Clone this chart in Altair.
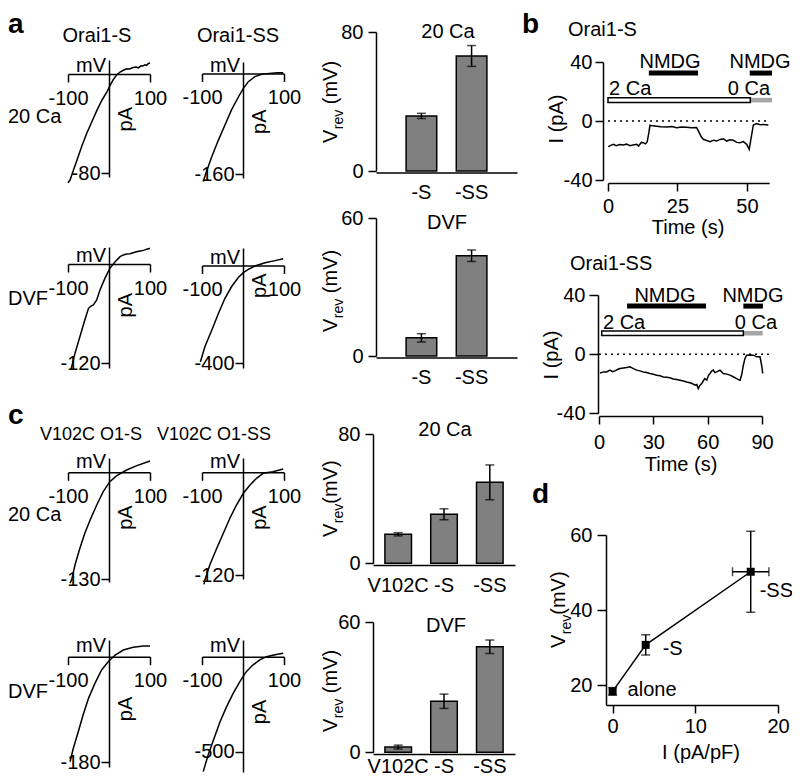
import altair as alt
import pandas as pd

# ============================ data =========================================
# I-V curves (membrane potential mV, current pA)
A20_S_V = [-100, -95, -86, -78, -66, -54, -41, -29, -17, -5, 3, 10, 18, 27, 35, 43, 50, 59, 66, 72, 78, 83, 88, 92, 96, 100]
A20_S_I = [-88, -85.7, -77, -69.5, -58, -47.7, -38, -29, -21, -14.5, -9, -4.8, -1, 1.6, 3.0, 4.2, 4.0, 5.2, 5.6, 5.0, 6.6, 6.5, 7.5, 7.0, 8.5, 8.9]
A20_SS_V = [-97, -89, -76, -60, -44, -28, -11, 1, 13, 29, 46, 58, 70, 84, 98]
A20_SS_I = [-172, -156, -132, -106, -82, -58, -37, -23.6, -13, -5, -1.3, -0.2, 0.3, 1.0, 1.3]
ADVF_S_V = [-93, -91, -83, -71, -59, -50, -44, -38, -30, -22, -10, 2, 15, 27, 35, 43, 51, 59, 67, 76, 84, 92, 100]
ADVF_S_I = [-128, -124.4, -108.3, -88.1, -67.9, -53.7, -51, -49.7, -43.6, -31.5, -17.4, -5.3, 2.8, 8.9, 11, 12.1, 12.5, 13.7, 14.8, 15.8, 16.5, 18, 19]
ADVF_SS_V = [-104, -93, -76, -60, -44, -28, -11, 1, 13, 29, 54, 78, 98]
ADVF_SS_I = [-395, -332, -264, -196, -134, -87, -48, -29, -16, -2, 11, 20, 28]
C20_S_V = [-95, -91, -83, -71, -59, -46, -30, -14, 2, 19, 43, 68, 100]
C20_S_I = [-135, -131, -113, -92.6, -74.3, -58.1, -39.8, -23.6, -11.4, -4.1, 2.8, 8.1, 13.8]
C20_SS_V = [-95, -93, -81, -64, -48, -32, -16, 1, 17, 33, 49, 73, 98]
C20_SS_I = [-131, -125.8, -108.3, -88.8, -71.3, -53.7, -38.2, -24.5, -14.8, -7.0, -1.2, 0.7, 3.9]
CDVF_S_V = [-95, -87, -75, -63, -50, -34, -18, -2, 15, 35, 59, 84, 100]
CDVF_S_I = [-179, -156, -128, -99, -71, -45, -22.7, -8.5, 2.9, 11.4, 16, 18.2, 18.2]
CDVF_SS_V = [-97, -85, -72, -56, -40, -24, -8, 8, 24, 41, 57, 81, 98]
CDVF_SS_I = [-605, -517, -438, -342, -263, -193, -132, -79, -44, -17, 0, 12, 18]

# bar charts (Vrev, mV)
A_CATS = ["-S", "-SS"]
A_20CA_MEAN = [31.7, 66.2]
A_20CA_SEM = [1.5, 6.0]
A_DVF_MEAN = [7.9, 43.6]
A_DVF_SEM = [1.8, 2.5]
C_CATS = ["V102C", "-S", "-SS"]
C_20CA_MEAN = [18.0, 30.4, 50.2]
C_20CA_SEM = [1.0, 3.4, 10.8]
C_DVF_MEAN = [2.4, 23.5, 48.6]
C_DVF_SEM = [0.9, 3.3, 3.1]

# current traces (time s, current pA)
B_S_T = [0.1, 1.0, 1.9, 3.0, 4.2, 5.5, 6.7, 7.9, 9.0, 10.3, 11.0, 12.0, 12.7, 13.5, 14.1, 14.7, 15.1, 16.0, 17.5, 19.0,
         21.1, 23.0, 24.7, 26.5, 28.3, 30.0, 31.9, 32.8, 33.5, 34.3, 35.5, 36.7, 38.0, 39.1, 40.3, 41.5, 42.7, 43.9, 45.1, 46.3,
         47.5, 48.7, 49.9, 50.8, 51.3, 52.3, 53.5, 54.7, 55.9, 57.7]
B_S_I = [-17.4, -16.5, -15.8, -16.8, -16.0, -16.3, -15.7, -16.7, -16.2, -15.8, -17.0, -14.5, -14.7, -15.5, -14.2, -7.9, -2.9, -3.3, -3.6, -3.9,
         -4.1, -3.8, -4.5, -4.0, -4.3, -4.6, -4.5, -7.9, -10.5, -12.4, -13.2, -14.0, -13.0, -13.6, -12.5, -12.0, -13.6, -12.8, -13.1, -14.5,
         -14.7, -14.0, -15.8, -19.2, -13.6, -2.7, -1.8, -2.5, -2.3, -2.7]
B_S_NMDG_START = [14.7, 51.0]
B_S_NMDG_END = [32.4, 59.0]
B_S_SOL_START = [0.0, 51.2]
B_S_SOL_END = [51.2, 59.0]

B_SS_T = [0.55, 2.5, 4.2, 6.1, 7.5, 8.8, 10.2, 11.6, 13.5, 15.3, 17.1, 19.0, 20.8, 22.6, 24.5, 26.3, 28.2, 30.0, 31.9, 33.7,
          35.5, 37.4, 39.2, 41.0, 42.9, 44.7, 46.6, 48.4, 50.2, 51.6, 53.0, 54.0, 54.8, 55.8, 56.7, 57.6, 58.5, 59.5, 60.4, 61.3,
          62.2, 63.1, 64.0, 65.0, 66.8, 68.6, 70.5, 72.3, 74.1, 76.0, 77.0, 77.9, 78.8, 79.7, 80.6, 81.5, 83.4, 85.2, 87.1, 88.9,
          89.8, 90.4]
B_SS_I = [-12.7, -12.0, -12.0, -10.8, -11.8, -11.3, -10.4, -9.7, -9.3, -9.0, -8.6, -9.8, -10.8, -11.3, -12.0, -12.4, -13.1, -13.6, -14.2, -14.6,
          -15.4, -15.6, -16.0, -16.8, -17.2, -17.6, -18.1, -18.8, -19.4, -20.0, -21.0, -20.5, -23.3, -21.0, -19.9, -18.0, -16.5, -17.6, -14.5, -13.1,
          -11.5, -10.8, -12.5, -12.0, -10.8, -13.1, -13.5, -14.2, -15.3, -16.5, -17.2, -17.6, -13.8, -7.5, -2.9, -0.7, -0.5, -0.7, -1.8, -1.8,
          -7.5, -13.1]
B_SS_NMDG_START = [15.5, 79.7]
B_SS_NMDG_END = [59.1, 90.5]
B_SS_SOL_START = [1.5, 79.7]
B_SS_SOL_END = [79.7, 90.4]

# panel d
D_NAMES = ["alone", "-S", "-SS"]
D_I = [0.0, 4.0, 16.7]
D_I_ERR = [0.0, 0.0, 2.2]
D_V = [18.3, 30.7, 50.2]
D_V_ERR = [1.0, 2.7, 10.8]

# ============================ layout helpers ===============================
FONT = "Liberation Sans"
W, H = 784, 768
M = 8
GRAY = "#808080"


def X(v):
    return v - M


def Y(v):
    return v - M


def lin(dom, rng):
    return alt.Scale(domain=list(dom), range=list(rng), nice=False, zero=False)


def ax_bottom(y_img, **kw):
    return alt.Axis(orient="bottom", offset=Y(y_img) - H, title=None, **kw)


def ax_left(x_img, **kw):
    return alt.Axis(orient="left", offset=-X(x_img), title=None, **kw)


def txt(**kw):
    base = dict(font=FONT, fontSize=20, color="black")
    base.update(kw)
    return base


layers = []


def label_layer(rows, size=20, align="center", baseline="alphabetic", angle=0, weight="normal"):
    df = pd.DataFrame(rows, columns=["t", "px", "py"])
    df["px"] = df["px"] - M
    df["py"] = df["py"] - M
    mk = txt(fontSize=size, align=align, baseline=baseline, fontWeight=weight)
    if angle:
        mk["angle"] = angle
    return alt.Chart(df).mark_text(**mk).encode(
        x=alt.X("px:Q", scale=lin([0, W], [0, W]), axis=None),
        y=alt.Y("py:Q", scale=lin([0, H], [0, H]), axis=None),
        text="t:N",
    )


# ---------------------------- I-V plots -------------------------------------
def iv(V, I, xl, xr, y0, tickval, ytick, ytop, ybot, pa_off, mv_dy=-2):
    k = (ytick - y0) / (-tickval)
    xs = lin([-100, 100], [X(xl), X(xr)])
    ys = lin([(y0 - ybot) / k, (y0 - ytop) / k], [Y(ybot), Y(ytop)])
    xmid = (xl + xr) / 2
    df = pd.DataFrame({"V": V, "I": I})
    curve = alt.Chart(df).mark_line(color="black", strokeWidth=1.5).encode(
        x=alt.X("V:Q", scale=xs, axis=ax_bottom(y0, values=[-100, 100], tickSize=8, labelPadding=6)),
        y=alt.Y("I:Q", scale=ys, axis=ax_left(xmid, values=[tickval], tickSize=8, labelPadding=1)),
    )
    org = pd.DataFrame({"V": [0], "I": [0], "u1": ["mV"], "u2": ["pA"]})
    mv = alt.Chart(org).mark_text(**txt(align="right", baseline="alphabetic", dx=-3, dy=mv_dy)).encode(
        x=alt.X("V:Q", scale=xs, axis=None), y=alt.Y("I:Q", scale=ys, axis=None), text="u1:N")
    pa = alt.Chart(org).mark_text(**txt(align="right", baseline="top", angle=270, dx=-pa_off, dy=7)).encode(
        x=alt.X("V:Q", scale=xs, axis=None), y=alt.Y("I:Q", scale=ys, axis=None), text="u2:N")
    return [curve, mv, pa]


layers += iv(A20_S_V, A20_S_I, 68, 150, 74, -80, 173, 60, 177, 33)
layers += iv(A20_SS_V, A20_SS_I, 202, 284, 73.5, -160, 174, 62, 178, 36)
layers += iv(ADVF_S_V, ADVF_S_I, 68, 150, 264, -120, 363, 247, 368, 29)
layers += iv(ADVF_SS_V, ADVF_SS_I, 202, 284, 265.5, -400, 363.3, 248, 368, 8)
layers += iv(C20_S_V, C20_S_I, 68, 150, 472.3, -130, 579, 458, 582, 33, -4)
layers += iv(C20_SS_V, C20_SS_I, 202, 284, 472.3, -120, 575, 458, 579, 33, -4)
layers += iv(CDVF_S_V, CDVF_S_I, 68, 150, 656.7, -180, 762.3, 640, 767, 40, -5)
layers += iv(CDVF_SS_V, CDVF_SS_I, 202, 284, 656.7, -500, 751.7, 640, 772, 43, -5)


# ---------------------------- bar charts ------------------------------------
def bars(cats, mean, sem, xl, xr, pi, po, y0, ymax, ytop, xaxis_y, lab_pad=10):
    xs = alt.Scale(type="band", domain=cats, range=[X(xl), X(xr)], paddingInner=pi, paddingOuter=po)
    ys = lin([0, ymax], [Y(y0), Y(ytop)])
    df = pd.DataFrame({"cat": cats, "m": mean,
                       "lo": [m - s for m, s in zip(mean, sem)],
                       "hi": [m + s for m, s in zip(mean, sem)]})
    out = [alt.Chart(df).mark_bar(fill=GRAY, stroke="black", strokeWidth=1.5).encode(
        x=alt.X("cat:N", scale=xs, sort=cats,
                axis=ax_bottom(xaxis_y, ticks=False, tickSize=0, labelPadding=lab_pad, labelAngle=0, zindex=1)),
        y=alt.Y("m:Q", scale=ys, axis=ax_left(xl, values=[0, ymax], tickSize=8, labelPadding=5)),
    )]
    out.append(alt.Chart(df).mark_rule(color="black", strokeWidth=1.5).encode(
        x=alt.X("cat:N", scale=xs, sort=cats, axis=None),
        y=alt.Y("lo:Q", scale=ys, axis=None), y2="hi:Q"))
    for c in ("lo", "hi"):
        out.append(alt.Chart(df).mark_tick(color="black", thickness=1.5, size=9, orient="horizontal").encode(
            x=alt.X("cat:N", scale=xs, sort=cats, axis=None),
            y=alt.Y(f"{c}:Q", scale=ys, axis=None)))
    return out


layers += bars(A_CATS, A_20CA_MEAN, A_20CA_SEM, 376, 517, 0.39, 0.6, 171, 80, 32, 172.5)
layers += bars(A_CATS, A_DVF_MEAN, A_DVF_SEM, 376, 517, 0.39, 0.6, 356, 60, 218, 357.5)
layers += bars(C_CATS, C_20CA_MEAN, C_20CA_SEM, 373, 515, 0.42, 0.26, 563.3, 80, 434.3, 565)
layers += bars(C_CATS, C_DVF_MEAN, C_DVF_SEM, 373, 515, 0.42, 0.26, 752.3, 60, 622, 754, lab_pad=2)


# ---------------------------- current traces --------------------------------
NM_LEVEL = 32.5
NM_TEXT = 35.6
CA_TEXT = 17.3
SOL_LO, SOL_HI = 12.6, 15.7


def trace(T, I, tmax, xl, xr, y40, ym40, yaxis_x, xaxis_y, xvals, ytick, ypad, xpad, dot_end,
          nm_s, nm_e, sol_s, sol_e, nm_lab_t, ca2_t, ca0_t):
    xs = lin([0, tmax], [X(xl), X(xr)])
    ys = lin([-40, 40], [Y(ym40), Y(y40)])
    out = []
    zero = pd.DataFrame({"a": [0], "b": [dot_end], "z": [0]})
    out.append(alt.Chart(zero).mark_rule(color="black", strokeWidth=1.5, strokeDash=[2, 4]).encode(
        x=alt.X("a:Q", scale=xs, axis=None), x2="b:Q", y=alt.Y("z:Q", scale=ys, axis=None)))
    df = pd.DataFrame({"t": T, "I": I})
    out.append(alt.Chart(df).mark_line(color="black", strokeWidth=1.5).encode(
        x=alt.X("t:Q", scale=xs, axis=ax_bottom(xaxis_y, values=xvals, tickSize=8, labelPadding=xpad)),
        y=alt.Y("I:Q", scale=ys, axis=ax_left(yaxis_x, values=[-40, 0, 40], tickSize=ytick, labelPadding=ypad)),
    ))
    nm = pd.DataFrame({"s": nm_s, "e": nm_e, "lv": [NM_LEVEL] * len(nm_s)})
    out.append(alt.Chart(nm).mark_rule(color="black", strokeWidth=5).encode(
        x=alt.X("s:Q", scale=xs, axis=None), x2="e:Q", y=alt.Y("lv:Q", scale=ys, axis=None)))
    sol = pd.DataFrame({"s": sol_s, "e": sol_e, "lo": [SOL_LO] * 2, "hi": [SOL_HI] * 2, "k": ["2 Ca", "0 Ca"]})
    out.append(alt.Chart(sol.iloc[[1]]).mark_rect(fill="#a6a6a6").encode(
        x=alt.X("s:Q", scale=xs, axis=None), x2="e:Q", y=alt.Y("lo:Q", scale=ys, axis=None), y2="hi:Q"))
    out.append(alt.Chart(sol.iloc[[0]]).mark_rect(fill="white", stroke="black", strokeWidth=1.5).encode(
        x=alt.X("s:Q", scale=xs, axis=None), x2="e:Q", y=alt.Y("lo:Q", scale=ys, axis=None), y2="hi:Q"))
    lab = pd.DataFrame({"t": nm_lab_t, "y": [NM_TEXT] * len(nm_lab_t), "k": ["NMDG"] * len(nm_lab_t)})
    out.append(alt.Chart(lab).mark_text(**txt(align="center", baseline="alphabetic")).encode(
        x=alt.X("t:Q", scale=xs, axis=None), y=alt.Y("y:Q", scale=ys, axis=None), text="k:N"))
    for t, k, al in ((ca2_t, "2 Ca", "left"), (ca0_t, "0 Ca", "right")):
        d = pd.DataFrame({"t": [t], "y": [CA_TEXT], "k": [k]})
        out.append(alt.Chart(d).mark_text(**txt(align=al, baseline="alphabetic")).encode(
            x=alt.X("t:Q", scale=xs, axis=None), y=alt.Y("y:Q", scale=ys, axis=None), text="k:N"))
    return out


layers += trace(B_S_T, B_S_I, 58, 608, 769.2, 62, 180, 603, 183, [0, 25, 50], 8, 3, 5, 57.5,
                B_S_NMDG_START, B_S_NMDG_END, B_S_SOL_START, B_S_SOL_END, [22.3, 54.7], 0.4, 58.3)
layers += trace(B_SS_T, B_SS_I, 90, 599, 762, 295, 413.3, 598, 416, [0, 30, 60, 90], 9, 4, 8, 94.4,
                B_SS_NMDG_START, B_SS_NMDG_END, B_SS_SOL_START, B_SS_SOL_END, [36.4, 85.0], 2.2, 98.3)

# ---------------------------- panel d ----------------------------------------
dxs = lin([-0.8, 20], [X(606), X(778)])
dys = lin([14.67, 60], [Y(705), Y(535)])
ddf = pd.DataFrame({"name": D_NAMES, "i": D_I, "ie": D_I_ERR, "v": D_V, "ve": D_V_ERR})
ddf["vlo"] = ddf["v"] - ddf["ve"]
ddf["vhi"] = ddf["v"] + ddf["ve"]
ddf["ilo"] = ddf["i"] - ddf["ie"]
ddf["ihi"] = ddf["i"] + ddf["ie"]
hx = ddf[ddf["ie"] > 0]

layers.append(alt.Chart(ddf).mark_line(color="black", strokeWidth=1.5).encode(
    x=alt.X("i:Q", scale=dxs, axis=ax_bottom(705, values=[0, 10, 20], tickSize=8, labelPadding=3.5)),
    y=alt.Y("v:Q", scale=dys, axis=ax_left(606, values=[20, 40, 60], tickSize=9, labelPadding=5)),
))
layers.append(alt.Chart(ddf).mark_rule(color="black", strokeWidth=1.5).encode(
    x=alt.X("i:Q", scale=dxs, axis=None), y=alt.Y("vlo:Q", scale=dys, axis=None), y2="vhi:Q"))
for c in ("vlo", "vhi"):
    layers.append(alt.Chart(ddf).mark_tick(color="black", thickness=1.5, size=9, orient="horizontal").encode(
        x=alt.X("i:Q", scale=dxs, axis=None), y=alt.Y(f"{c}:Q", scale=dys, axis=None)))
layers.append(alt.Chart(hx).mark_rule(color="black", strokeWidth=1.5).encode(
    x=alt.X("ilo:Q", scale=dxs, axis=None), x2="ihi:Q", y=alt.Y("v:Q", scale=dys, axis=None)))
for c in ("ilo", "ihi"):
    layers.append(alt.Chart(hx).mark_tick(color="black", thickness=1.5, size=9, orient="vertical").encode(
        x=alt.X(f"{c}:Q", scale=dxs, axis=None), y=alt.Y("v:Q", scale=dys, axis=None)))
layers.append(alt.Chart(ddf).mark_square(color="black", size=64, opacity=1).encode(
    x=alt.X("i:Q", scale=dxs, axis=None), y=alt.Y("v:Q", scale=dys, axis=None)))
for idx, (ddx, ddy) in enumerate([(15, 5), (17, 10), (9, 25)]):
    layers.append(alt.Chart(ddf.iloc[[idx]]).mark_text(**txt(align="left", baseline="alphabetic", dx=ddx, dy=ddy)).encode(
        x=alt.X("i:Q", scale=dxs, axis=None), y=alt.Y("v:Q", scale=dys, axis=None), text="name:N"))

# ---------------------------- text annotations ------------------------------
layers.append(label_layer([("a", 8, 33), ("b", 522, 33), ("c", 8, 424), ("d", 532, 503)],
                          size=28, align="left", weight="bold"))
layers.append(label_layer([("Orai1-S", 97, 42), ("Orai1-SS", 238, 42),
                           ("20 Ca", 448, 38), ("DVF", 447, 229), ("20 Ca", 445, 436), ("DVF", 446, 632),
                           ("Time (s)", 688, 234), ("Time (s)", 681, 471), ("I (pA/pF)", 701, 759)]))
layers.append(label_layer([("20 Ca", 8, 123), ("DVF", 8, 305), ("20 Ca", 8, 521), ("DVF", 8, 698),
                           ("Orai1-S", 568, 36), ("Orai1-SS", 570, 270)], align="left"))
layers.append(label_layer([("V102C O1-S", 40, 440), ("V102C O1-SS", 157, 440)], size=18, align="left"))
layers.append(label_layer([("I (pA)", 563, 119), ("I (pA)", 558, 355)], angle=270))

VREV = [(337, 143, True), (337, 332, True), (337, 537, False), (337, 732, True), (565, 648, False)]
big, small = [], []
for xb, yb, sp in VREV:
    big.append(("V", xb, yb))
    small.append(("rev", xb + 6, yb - 13.8))
    big.append(("(mV)", xb, yb - 13.8 - 19.5 - (5.5 if sp else 0)))
layers.append(label_layer(big, align="left", angle=270))
layers.append(label_layer(small, size=14, align="left", angle=270))

# ============================ assemble ======================================
chart = (
    alt.layer(*layers)
    .resolve_scale(x="independent", y="independent")
    .properties(width=W, height=H, autosize=alt.AutoSizeParams(type="none"), padding=0)
    .configure_view(stroke=None)
    .configure_axis(labelFont=FONT, labelFontSize=20, labelColor="black", domainColor="black",
                    tickColor="black", domainWidth=1.5, tickWidth=1.5, grid=False,
                    labelFlush=False, labelOverlap=False, labelExpr="'' + datum.value")
)
chart.save("out.html", embed_options={"renderer": "svg", "actions": False})
